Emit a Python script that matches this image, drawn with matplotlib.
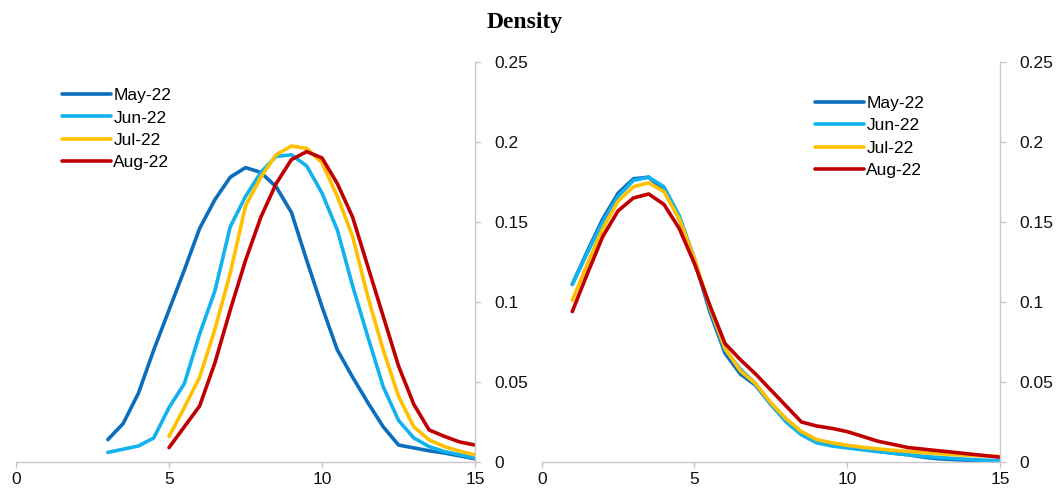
import numpy as np
import matplotlib
matplotlib.use("Agg")
import matplotlib.pyplot as plt

plt.rcParams["font.family"] = ["Liberation Sans", "DejaVu Sans"]

months = ["May-22", "Jun-22", "Jul-22", "Aug-22"]
colours = ["#0A6EBD", "#12B2EE", "#FFC000", "#C00000"]

# left panel: densities sampled every 0.5
x_a_early = np.arange(3, 15.01, 0.5)
x_a_late = np.arange(5, 15.01, 0.5)
may_a = [0.014, 0.024, 0.043, 0.070, 0.095, 0.120, 0.146, 0.164, 0.178, 0.184,
         0.181, 0.172, 0.156, 0.126, 0.097, 0.070, 0.053, 0.037, 0.022, 0.0106,
         0.0088, 0.007, 0.0056, 0.0038, 0.002]
jun_a = [0.006, 0.008, 0.010, 0.015, 0.034, 0.049, 0.080, 0.107, 0.147, 0.166,
         0.181, 0.191, 0.192, 0.185, 0.168, 0.145, 0.110, 0.078, 0.047, 0.026,
         0.015, 0.0096, 0.0065, 0.0045, 0.0025]
jul_a = [0.016, 0.034, 0.053, 0.083, 0.118, 0.160, 0.178, 0.192, 0.1975, 0.196,
         0.187, 0.166, 0.141, 0.103, 0.070, 0.041, 0.022, 0.0138, 0.0096, 0.0068,
         0.0044]
aug_a = [0.009, 0.022, 0.035, 0.062, 0.095, 0.126, 0.153, 0.174, 0.189, 0.194,
         0.190, 0.174, 0.153, 0.122, 0.091, 0.060, 0.036, 0.020, 0.016, 0.0125,
         0.0106]

# right panel
x_b = np.arange(1, 15.01, 0.5)
may_b = [0.111, 0.132, 0.152, 0.168, 0.177, 0.178, 0.170, 0.152, 0.126, 0.094,
         0.068, 0.055, 0.048, 0.036, 0.026, 0.018, 0.013, 0.011, 0.0095, 0.008,
         0.0068, 0.0055, 0.0045, 0.003, 0.002, 0.0015, 0.001, 0.0007, 0.0005]
jun_b = [0.111, 0.131, 0.150, 0.166, 0.176, 0.178, 0.172, 0.154, 0.127, 0.096,
         0.070, 0.058, 0.049, 0.036, 0.025, 0.017, 0.012, 0.010, 0.0088, 0.0076,
         0.0065, 0.0055, 0.0045, 0.0035, 0.0028, 0.0022, 0.0016, 0.0011, 0.0008]
jul_b = [0.101, 0.124, 0.146, 0.163, 0.172, 0.1745, 0.169, 0.152, 0.127, 0.097,
         0.071, 0.057, 0.049, 0.037, 0.027, 0.019, 0.014, 0.012, 0.0104, 0.0092,
         0.0082, 0.0073, 0.0066, 0.0058, 0.0052, 0.0046, 0.0041, 0.0038, 0.0035]
aug_b = [0.094, 0.118, 0.141, 0.157, 0.165, 0.1675, 0.161, 0.146, 0.124, 0.098,
         0.074, 0.064, 0.055, 0.045, 0.035, 0.025, 0.0225, 0.021, 0.019, 0.016,
         0.013, 0.011, 0.009, 0.008, 0.007, 0.006, 0.005, 0.004, 0.003]

fig = plt.figure(figsize=(10.62, 4.94), dpi=100)
ax1 = fig.add_axes([0.0151, 0.0648, 0.4322, 0.8097])
ax2 = fig.add_axes([0.5101, 0.0648, 0.4315, 0.8097])

panels = [
    (ax1, [x_a_early, x_a_early, x_a_late, x_a_late], [may_a, jun_a, jul_a, aug_a]),
    (ax2, [x_b, x_b, x_b, x_b], [may_b, jun_b, jul_b, aug_b]),
]

for ax, xs, ys in panels:
    for x, y, c, m in zip(xs, ys, colours, months):
        ax.plot(x, y, color=c, lw=2.6, label=m, solid_capstyle="round",
                solid_joinstyle="round")
    ax.set_xlim(0, 15)
    ax.set_ylim(0, 0.25)
    ax.set_xticks([0, 5, 10, 15])
    ax.set_yticks([0, 0.05, 0.1, 0.15, 0.2, 0.25])
    ax.set_yticklabels(["0", "0.05", "0.1", "0.15", "0.2", "0.25"])
    ax.yaxis.tick_right()
    for s in ["top", "left"]:
        ax.spines[s].set_visible(False)
    for s in ["bottom", "right"]:
        ax.spines[s].set_color("#c8c8c8")
        ax.spines[s].set_linewidth(1.0)
    ax.tick_params(axis="both", colors="#c8c8c8", labelcolor="#111111",
                   labelsize=12.5, length=4, width=1.0)
    ax.tick_params(axis="y", pad=10)
    ax.tick_params(axis="x", pad=3)

leg_kw = dict(frameon=False, fontsize=12.5, handlelength=2.8, handletextpad=0.15,
              labelspacing=0.42, borderaxespad=0, loc="upper left")
ax1.legend(bbox_transform=fig.transFigure, bbox_to_anchor=(0.052, 0.836), **leg_kw)
ax2.legend(bbox_transform=fig.transFigure, bbox_to_anchor=(0.761, 0.820), **leg_kw)

fig.text(0.494, 0.955, "Density", ha="center", va="center", fontsize=17,
         fontweight="bold", family="Liberation Serif")

fig.savefig("out.png", dpi=100)
